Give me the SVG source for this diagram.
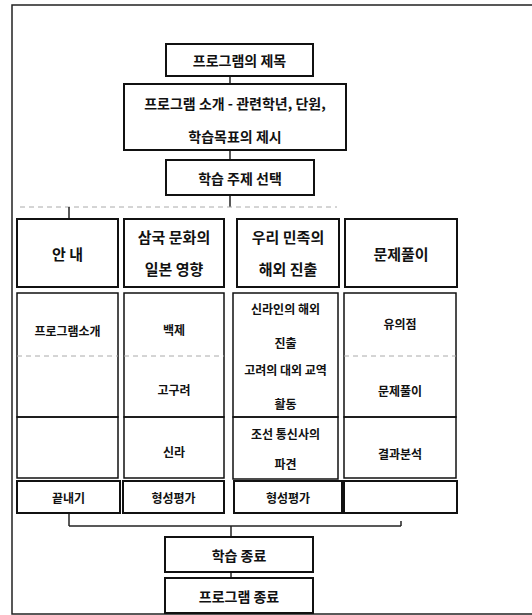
<svg xmlns="http://www.w3.org/2000/svg" width="532" height="615" viewBox="0 0 532 615">
<style>
.box{fill:#fff;stroke:#111;stroke-width:2}
.cell{fill:none;stroke:#111;stroke-width:1.5}
.dash{stroke:#aaa;stroke-width:1;stroke-dasharray:5 4}
.ln{stroke:#222;stroke-width:1.5;fill:none}
.t{font-family:"Noto Sans CJK KR","Noto Sans",sans-serif;font-weight:bold;fill:#111;text-anchor:middle;dominant-baseline:central}
.h{font-size:14px}
.m{font-size:15px}
.s{font-size:12px;font-weight:bold}
</style>
<rect x="0" y="0" width="532" height="615" fill="#fff"/>
<rect x="12" y="5" width="530" height="609" fill="none" stroke="#222" stroke-width="1.5"/>
<g id="connectors">
<line class="ln" x1="230" y1="76" x2="230" y2="84"/>
<line class="ln" x1="230" y1="150" x2="230" y2="160"/>
<line class="ln" x1="230" y1="195" x2="230" y2="207"/>
<line class="dash" x1="20" y1="207" x2="337" y2="207"/>
<line class="ln" x1="69" y1="207" x2="69" y2="219"/>
<line class="ln" x1="69" y1="513" x2="69" y2="526"/>
<line class="ln" x1="69" y1="526" x2="401" y2="526"/>
<line class="ln" x1="401" y1="521" x2="401" y2="526"/>
<line class="ln" x1="231" y1="526" x2="231" y2="537"/>
<line class="ln" x1="231" y1="572" x2="231" y2="578"/>
</g>
<g id="title">
<rect class="box" x="166" y="44" width="147" height="32"/>
<text class="t h" x="239.5" y="60">프로그램의 제목</text>
</g>
<g id="intro">
<rect class="box" x="124" y="84" width="222" height="66"/>
<text class="t h" x="235" y="103">프로그램 소개 - 관련학년, 단원,</text>
<text class="t h" x="235" y="136">학습목표의 제시</text>
</g>
<g id="topic">
<rect class="box" x="166" y="160" width="148" height="35"/>
<text class="t h" x="240" y="178">학습 주제 선택</text>
</g>
<g id="col1-head">
<rect class="box" x="17" y="219" width="101" height="68"/>
<text class="t m" x="67.5" y="253">안 내</text>
</g>
<g id="col2-head">
<rect class="box" x="124" y="219" width="100" height="68"/>
<text class="t m" x="174" y="236">삼국 문화의</text>
<text class="t m" x="174" y="268">일본 영향</text>
</g>
<g id="col3-head">
<rect class="box" x="237" y="219" width="102" height="68"/>
<text class="t m" x="288" y="236">우리 민족의</text>
<text class="t m" x="288" y="268">해외 진출</text>
</g>
<g id="col4-head">
<rect class="box" x="345" y="219" width="112" height="68"/>
<text class="t m" x="401" y="253">문제풀이</text>
</g>
<g id="col1-body">
<rect class="cell" x="17" y="293" width="101" height="124"/>
<line class="dash" x1="17" y1="356" x2="118" y2="356"/>
<text class="t s" x="67.5" y="330">프로그램소개</text>
<rect class="cell" x="17" y="417" width="101" height="61"/>
</g>
<g id="col2-body">
<rect class="cell" x="124" y="293" width="100" height="124"/>
<line class="dash" x1="124" y1="356" x2="224" y2="356"/>
<text class="t s" x="174" y="329">백제</text>
<text class="t s" x="174" y="389">고구려</text>
<rect class="cell" x="124" y="417" width="100" height="61"/>
<text class="t s" x="174" y="451">신라</text>
</g>
<g id="col3-body">
<rect class="cell" x="233" y="293" width="105" height="124"/>
<text class="t s" x="285.5" y="308">신라인의 해외</text>
<text class="t s" x="285.5" y="342">진출</text>
<text class="t s" x="285.5" y="369">고려의 대외 교역</text>
<text class="t s" x="285.5" y="403">활동</text>
<rect class="cell" x="233" y="417" width="105" height="62"/>
<text class="t s" x="285.5" y="433">조선 통신사의</text>
<text class="t s" x="285.5" y="463">파견</text>
</g>
<g id="col4-body">
<rect class="cell" x="344" y="293" width="112" height="124"/>
<line class="dash" x1="344" y1="356" x2="456" y2="356"/>
<text class="t s" x="400" y="323">유의점</text>
<text class="t s" x="400" y="390">문제풀이</text>
<rect class="cell" x="344" y="417" width="112" height="61"/>
<text class="t s" x="400" y="453">결과분석</text>
</g>
<g id="col1-end">
<rect class="box" x="17" y="481" width="103" height="32"/>
<text class="t s" x="68.5" y="497">끝내기</text>
</g>
<g id="col2-end">
<rect class="box" x="123" y="481" width="101" height="32"/>
<text class="t s" x="173.5" y="497">형성평가</text>
</g>
<g id="col3-end">
<rect class="box" x="234" y="481" width="108" height="32"/>
<text class="t s" x="288" y="497">형성평가</text>
</g>
<g id="col4-end">
<rect class="box" x="344" y="481" width="113" height="32"/>
</g>
<g id="lesson-end">
<rect class="box" x="165" y="537" width="148" height="35"/>
<text class="t h" x="239" y="555">학습 종료</text>
</g>
<g id="program-end">
<rect class="box" x="165" y="578" width="148" height="35"/>
<text class="t h" x="239" y="596">프로그램 종료</text>
</g>
</svg>
